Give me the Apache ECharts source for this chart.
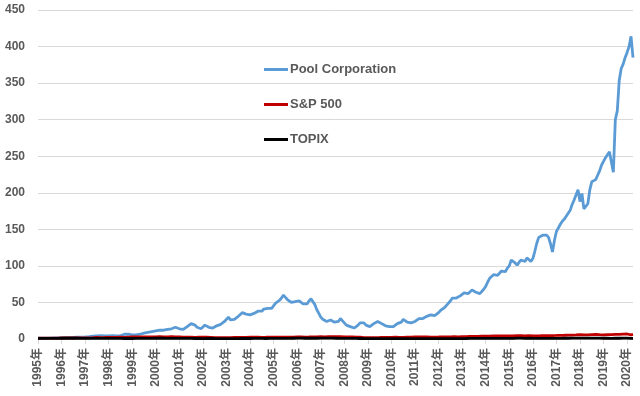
<!DOCTYPE html>
<html>
<head>
<meta charset="utf-8">
<script src="https://cdn.jsdelivr.net/npm/echarts@6/dist/echarts.min.js"></script>
<style>
  html, body { margin: 0; padding: 0; background: #fff; }
  #chart { width: 640px; height: 396px; }
</style>
</head>
<body>
<div id="chart"></div>
<script>
// year tick labels (one per January)
const yearLabels = ['1995年', '1996年', '1997年', '1998年', '1999年', '2000年', '2001年', '2002年', '2003年',
  '2004年', '2005年', '2006年', '2007年', '2008年', '2009年', '2010年', '2011年', '2012年', '2013年',
  '2014年', '2015年', '2016年', '2017年', '2018年', '2019年', '2020年'];

const seriesNames = ['Pool Corporation', 'S&P 500', 'TOPIX'];

// monthly values, Jan 1995 = 1
const pool = [
  1.0, 1.0, 1.05, 1.1, 1.15, 1.2, 1.25, 1.3, 1.35, 1.4, 1.45, 1.5,
  1.6, 1.7, 1.8, 1.9, 2.0, 2.1, 2.2, 2.3, 2.4, 2.5, 2.6, 2.7,
  2.8, 3.0, 3.3, 3.6, 3.9, 4.2, 4.4, 4.3, 4.5, 4.6, 4.4, 4.3,
  4.3, 4.5, 4.6, 4.4, 4.2, 4.0, 4.3, 4.8, 6.5, 7.2, 6.5, 6.0,
  5.5, 5.2, 5.5, 6, 6.5, 7, 8, 8.5, 9, 9.5, 10, 10.5,
  11, 11, 12, 12, 12, 13, 13, 14, 14, 15, 16, 15,
  14, 12, 13, 15, 17, 19, 21, 21, 19, 16, 14, 14,
  16, 19, 18, 16, 15, 15, 17, 18, 19, 20, 22, 24,
  27, 30, 26, 24, 27, 29, 31, 33, 36, 35, 34, 33,
  33, 34, 35, 36, 38, 39, 38, 41, 40, 42, 43, 42,
  44, 49, 50, 53, 56, 60, 57, 54, 52, 50, 50, 51,
  51, 52, 50, 48, 46, 48, 52, 55, 53, 47, 40, 35,
  30, 27, 25, 24, 25, 26, 27, 23, 21, 24, 28, 27,
  22, 19, 18, 17, 15, 15, 17, 19, 22, 24, 22, 19,
  18, 17, 19, 21, 22, 24, 23, 21, 19, 18, 17, 17,
  17, 17, 19, 21, 22, 23, 27, 26, 23, 21, 22, 23,
  24, 26, 28, 30, 28, 29, 31, 33, 33, 35, 32, 34,
  36, 39, 41, 43, 46, 48, 52, 56, 57, 56, 58, 59,
  61, 63, 65, 62, 61, 67, 66, 64, 63, 62, 64, 68,
  72, 78, 83, 82, 88, 89, 87, 90, 93, 94, 92, 97,
  100, 108, 107, 104, 101, 105, 108, 107, 106, 111, 110, 106,
  110, 120, 131, 139, 141, 142, 143, 142, 139, 130, 119, 135,
  147, 152, 157, 161, 164, 168, 170, 176, 184, 190, 197, 204,
  188, 199, 178, 176, 185, 204, 215, 213, 218, 224, 230, 238,
  243, 248, 252, 256, 242, 228, 300, 312, 354, 370, 376, 385,
  392, 400, 414, 385
];

const sp500 = [
  1.00, 1.04, 1.07, 1.10, 1.13, 1.16, 1.20, 1.20, 1.24, 1.24, 1.29, 1.31,
  1.35, 1.36, 1.37, 1.39, 1.42, 1.43, 1.36, 1.39, 1.46, 1.50, 1.61, 1.58,
  1.67, 1.68, 1.61, 1.70, 1.80, 1.88, 2.03, 1.91, 2.01, 1.95, 2.03, 2.06,
  2.09, 2.23, 2.34, 2.37, 2.32, 2.41, 2.39, 2.04, 2.16, 2.34, 2.48, 2.61,
  2.72, 2.63, 2.74, 2.84, 2.77, 2.92, 2.83, 2.81, 2.73, 2.90, 2.96, 3.13,
  2.97, 2.91, 3.19, 3.09, 3.02, 3.10, 3.04, 3.23, 3.06, 3.04, 2.80, 2.81,
  2.91, 2.64, 2.47, 2.66, 2.67, 2.60, 2.58, 2.41, 2.21, 2.26, 2.42, 2.44,
  2.40, 2.36, 2.44, 2.29, 2.27, 2.11, 1.94, 1.95, 1.73, 1.89, 1.99, 1.87,
  1.82, 1.79, 1.80, 1.95, 2.05, 2.07, 2.11, 2.14, 2.12, 2.24, 2.25, 2.37,
  2.41, 2.44, 2.40, 2.36, 2.39, 2.43, 2.34, 2.35, 2.37, 2.40, 2.50, 2.58,
  2.51, 2.56, 2.51, 2.46, 2.54, 2.53, 2.63, 2.60, 2.61, 2.57, 2.66, 2.66,
  2.72, 2.73, 2.76, 2.79, 2.70, 2.70, 2.72, 2.77, 2.84, 2.93, 2.98, 3.02,
  3.06, 2.99, 3.02, 3.15, 3.26, 3.20, 3.10, 3.14, 3.25, 3.30, 3.15, 3.12,
  2.93, 2.83, 2.81, 2.95, 2.98, 2.72, 2.70, 2.73, 2.48, 2.06, 1.91, 1.92,
  1.76, 1.56, 1.70, 1.86, 1.96, 1.96, 2.10, 2.17, 2.25, 2.20, 2.33, 2.37,
  2.29, 2.35, 2.49, 2.53, 2.32, 2.19, 2.34, 2.23, 2.43, 2.52, 2.51, 2.68,
  2.74, 2.82, 2.82, 2.90, 2.86, 2.81, 2.75, 2.59, 2.41, 2.67, 2.65, 2.68,
  2.79, 2.91, 3.00, 2.97, 2.79, 2.90, 2.93, 2.99, 3.07, 3.00, 3.01, 3.03,
  3.19, 3.22, 3.34, 3.40, 3.47, 3.42, 3.59, 3.47, 3.58, 3.74, 3.84, 3.93,
  3.79, 3.96, 3.98, 4.01, 4.09, 4.17, 4.11, 4.26, 4.20, 4.29, 4.40, 4.38,
  4.24, 4.48, 4.40, 4.44, 4.48, 4.39, 4.48, 4.20, 4.09, 4.42, 4.43, 4.35,
  4.13, 4.11, 4.38, 4.39, 4.46, 4.47, 4.63, 4.62, 4.61, 4.52, 4.68, 4.76,
  4.85, 5.03, 5.03, 5.07, 5.13, 5.16, 5.26, 5.26, 5.36, 5.48, 5.63, 5.69,
  6.01, 5.77, 5.62, 5.63, 5.76, 5.78, 5.99, 6.17, 6.20, 5.77, 5.87, 5.33,
  5.75, 5.92, 6.03, 6.27, 5.86, 6.26, 6.34, 6.23, 6.33, 6.46, 6.68, 6.87,
  6.86, 6.29, 5.50, 6.20
];

const topix = [
  0.94, 0.89, 0.84, 0.82, 0.77, 0.76, 0.83, 0.87, 0.90, 0.86, 0.90, 1.02,
  1.04, 1.01, 1.05, 1.10, 1.07, 1.09, 1.02, 0.99, 1.03, 0.98, 0.98, 0.95,
  0.87, 0.89, 0.88, 0.89, 0.95, 0.98, 0.95, 0.88, 0.85, 0.79, 0.77, 0.76,
  0.79, 0.80, 0.78, 0.76, 0.75, 0.75, 0.77, 0.67, 0.67, 0.66, 0.72, 0.70,
  0.69, 0.70, 0.78, 0.84, 0.81, 0.90, 0.92, 0.92, 0.91, 0.93, 0.98, 1.11,
  1.06, 1.05, 1.10, 1.02, 1.00, 1.05, 0.95, 0.97, 0.95, 0.92, 0.89, 0.83,
  0.84, 0.81, 0.83, 0.89, 0.84, 0.84, 0.77, 0.72, 0.66, 0.68, 0.67, 0.66,
  0.62, 0.65, 0.68, 0.70, 0.72, 0.66, 0.65, 0.63, 0.59, 0.55, 0.57, 0.54,
  0.54, 0.54, 0.51, 0.51, 0.53, 0.58, 0.61, 0.65, 0.66, 0.67, 0.65, 0.67,
  0.68, 0.69, 0.76, 0.74, 0.72, 0.77, 0.73, 0.73, 0.71, 0.71, 0.73, 0.74,
  0.74, 0.76, 0.76, 0.73, 0.74, 0.76, 0.77, 0.81, 0.91, 0.93, 1.02, 1.06,
  1.10, 1.07, 1.12, 1.11, 1.03, 1.03, 1.01, 1.05, 1.04, 1.06, 1.05, 1.08,
  1.12, 1.13, 1.10, 1.10, 1.14, 1.14, 1.10, 1.04, 1.05, 1.05, 0.99, 0.95,
  0.88, 0.87, 0.78, 0.86, 0.91, 0.85, 0.83, 0.80, 0.70, 0.56, 0.55, 0.55,
  0.51, 0.48, 0.50, 0.54, 0.58, 0.60, 0.61, 0.65, 0.59, 0.55, 0.55, 0.59,
  0.58, 0.58, 0.63, 0.64, 0.57, 0.54, 0.55, 0.52, 0.54, 0.52, 0.55, 0.58,
  0.59, 0.61, 0.56, 0.55, 0.54, 0.55, 0.54, 0.50, 0.49, 0.49, 0.47, 0.47,
  0.49, 0.54, 0.55, 0.52, 0.46, 0.50, 0.48, 0.47, 0.48, 0.48, 0.50, 0.55,
  0.61, 0.63, 0.66, 0.74, 0.73, 0.73, 0.73, 0.72, 0.77, 0.77, 0.81, 0.84,
  0.79, 0.78, 0.77, 0.75, 0.77, 0.81, 0.83, 0.83, 0.86, 0.86, 0.91, 0.91,
  0.92, 0.98, 0.99, 1.03, 1.08, 1.05, 1.07, 0.99, 0.91, 1.01, 1.02, 1.00,
  0.92, 0.84, 0.87, 0.86, 0.89, 0.81, 0.85, 0.86, 0.85, 0.90, 0.95, 0.98,
  0.98, 0.99, 0.97, 0.99, 1.01, 1.04, 1.05, 1.05, 1.08, 1.14, 1.15, 1.17,
  1.19, 1.14, 1.11, 1.15, 1.13, 1.12, 1.13, 1.12, 1.17, 1.06, 1.08, 0.96,
  1.01, 1.04, 1.03, 1.05, 0.97, 1.00, 1.01, 0.97, 1.03, 1.08, 1.10, 1.11,
  1.08, 0.97, 0.90, 0.94
];

// one category per month; only Januaries get a label
const months = [];
yearLabels.forEach(y => {
  for (let m = 1; m <= 12; m++) months.push(y + m + '月');
});
const categories = months.slice(0, pool.length);

const font = '"Liberation Sans", Arial, "Noto Sans CJK JP", sans-serif';
const textColor = '#595959';
const isJan = (idx) => idx % 12 === 0;

const chart = echarts.init(document.getElementById('chart'), null, { renderer: 'canvas' });

chart.setOption({
  animation: false,
  backgroundColor: '#fff',
  grid: { left: 38, right: 7, top: 10, bottom: 57 },
  legend: {
    orient: 'vertical',
    left: 259,
    top: 58,
    itemGap: 22,
    itemWidth: 24,
    itemHeight: 3,
    icon: 'rect',
    data: seriesNames,
    textStyle: { color: textColor, fontSize: 13, fontWeight: 'bold', fontFamily: font, padding: [0, 0, 0, -3] }
  },
  xAxis: {
    type: 'category',
    boundaryGap: false,
    data: categories,
    axisLine: { lineStyle: { color: '#D9D9D9', width: 1 } },
    axisTick: { show: true, interval: isJan, length: 5, lineStyle: { color: '#D9D9D9' } },
    axisLabel: {
      interval: isJan,
      rotate: 90,
      margin: 9,
      color: textColor,
      fontSize: 12,
      fontWeight: 'bold',
      fontFamily: font,
      formatter: (v, idx) => yearLabels[idx / 12]
    },
    splitLine: { show: false }
  },
  yAxis: {
    type: 'value',
    min: 0,
    max: 450,
    interval: 50,
    axisLine: { show: false },
    axisTick: { show: false },
    axisLabel: { color: textColor, fontSize: 12, fontWeight: 'bold', fontFamily: font, margin: 13 },
    splitLine: { lineStyle: { color: '#D9D9D9', width: 1 } }
  },
  series: [
    {
      name: seriesNames[0], type: 'line', data: pool, symbol: 'none',
      lineStyle: { color: '#5B9BD5', width: 2.8 }, itemStyle: { color: '#5B9BD5' }
    },
    {
      name: seriesNames[1], type: 'line', data: sp500, symbol: 'none',
      lineStyle: { color: '#C00000', width: 2.8 }, itemStyle: { color: '#C00000' }
    },
    {
      name: seriesNames[2], type: 'line', data: topix, symbol: 'none',
      lineStyle: { color: '#000000', width: 2.8 }, itemStyle: { color: '#000000' }
    }
  ]
});
</script>
</body>
</html>
